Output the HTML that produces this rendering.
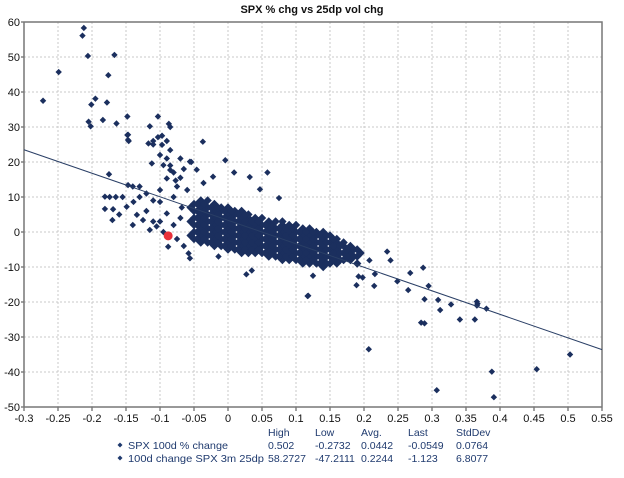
<!DOCTYPE html>
<html><head><meta charset="utf-8"><style>
body{margin:0;background:#fff;width:624px;height:473px;overflow:hidden;font-family:"Liberation Sans",Arial,sans-serif}
svg text{font-family:"Liberation Sans",Arial,sans-serif}
</style></head><body>
<svg id="chart" width="624" height="473" viewBox="0 0 624 473" xmlns="http://www.w3.org/2000/svg">
<text x="312" y="13" text-anchor="middle" font-size="11" font-weight="bold" fill="#111">SPX % chg vs 25dp vol chg</text>
<g id="grid"></g>
<g id="axes"></g>
<g id="marks"></g>
<g id="legend" font-size="10.5" fill="#1f3a6e"></g>
</svg>
<script>
const xTicks=[-0.3,-0.25,-0.2,-0.15,-0.1,-0.05,0,0.05,0.1,0.15,0.2,0.25,0.3,0.35,0.4,0.45,0.5,0.55];
const yTicks=[60,50,40,30,20,10,0,-10,-20,-30,-40,-50];
const regression=[[-0.3,23.5],[0.55,-33.6]];
const highlight=[-0.088,-1.1];
const outliers=[[-0.272,37.5],[-0.249,45.7],[-0.214,56.1],[-0.212,58.3],[-0.206,50.3],[-0.167,50.6],[-0.176,44.8],[-0.195,38.1],[-0.201,36.4],[-0.178,37],[-0.205,31.5],[-0.202,30.2],[-0.184,32],[-0.164,31],[-0.148,33],[-0.147,27.8],[-0.146,26],[-0.103,33],[-0.115,30.2],[-0.087,30.9],[-0.085,30],[-0.037,25.8],[-0.175,16.5],[-0.11,26],[-0.11,25],[-0.097,27.5],[-0.09,26],[-0.054,20],[-0.004,20.5],[0.009,17],[0.032,15.7],[0.058,17],[0.047,12.2],[0.075,9.7],[-0.022,15.8],
[-0.181,10.1],[-0.174,10],[-0.165,10],[-0.181,6.6],[-0.169,6.5],[-0.17,3.4],[-0.149,7.2],[-0.139,8.6],[-0.134,4.9],[-0.125,3.4],[-0.115,0.6],[-0.105,1.6],[-0.09,5.3],[-0.1,8.6],[-0.11,9],[-0.075,13],[-0.09,15.3],[-0.085,17.7],[-0.095,19.1],[-0.112,19.6],[-0.1,22],[-0.097,24.9],[-0.148,27.7],[-0.147,26.3],[-0.117,25.3],[-0.103,27.1],[-0.085,23.4],[-0.077,14.7],[-0.07,15.5],[-0.056,20.1],[-0.046,17.8],[-0.036,14],[-0.147,13.4],[-0.14,13],[-0.13,13],[-0.155,10],[-0.16,5],[-0.12,6],[-0.13,10],[-0.12,11],[-0.1,12],[-0.08,10],[-0.085,19],[-0.09,21],[-0.08,17],[-0.065,18],[-0.07,21],[-0.06,12],[-0.1,3],[-0.095,0],[-0.08,2],[-0.07,4],[-0.068,7],[-0.11,3],[-0.14,2],
[-0.088,-4.2],[-0.058,-6.1],[-0.056,-7.5],[-0.014,-7],[0.027,-12.1],[0.035,-11],[0.118,-18.2],[-0.075,-2],[-0.065,-4],
[0.207,-33.5],[0.307,-45.2],[0.391,-47.2],[0.388,-39.9],[0.454,-39.2],[0.503,-35],[0.234,-5.6],[0.239,-8.1],[0.208,-8.1],[0.216,-12],[0.215,-15.4],[0.189,-15.2],[0.192,-12.7],[0.198,-13],[0.249,-14.1],[0.268,-11.7],[0.265,-16.6],[0.287,-10.2],[0.295,-15.4],[0.289,-19.2],[0.309,-19.4],[0.312,-22.3],[0.328,-20.7],[0.284,-25.9],[0.289,-26.1],[0.341,-25],[0.363,-25],[0.366,-19.9],[0.367,-20.5],[0.366,-21],[0.38,-21.9],[0.117,-18.3],[0.125,-12.5]];
const blob=[
[-0.05,-2],[-0.05,0],[-0.05,2],[-0.05,4],[-0.05,6],[-0.05,8],
[-0.04,-3],[-0.04,-1],[-0.04,1],[-0.04,3],[-0.04,5],[-0.04,7],[-0.04,9],
[-0.03,-3],[-0.03,-1],[-0.03,1],[-0.03,3],[-0.03,5],[-0.03,7],[-0.03,9],
[-0.02,-4],[-0.02,-2],[-0.02,0],[-0.02,2],[-0.02,4],[-0.02,6],[-0.02,8],
[-0.01,-4],[-0.01,-2],[-0.01,0],[-0.01,2],[-0.01,4],[-0.01,6],[-0.01,7],
[0,-5],[0,-3],[0,-1],[0,1],[0,3],[0,5],[0,7],
[0.01,-5],[0.01,-3],[0.01,-1],[0.01,1],[0.01,3],[0.01,5],[0.01,6],
[0.02,-6],[0.02,-4],[0.02,-2],[0.02,0],[0.02,2],[0.02,4],[0.02,6],
[0.03,-6],[0.03,-4],[0.03,-2],[0.03,0],[0.03,2],[0.03,4],[0.03,5],
[0.04,-6],[0.04,-4],[0.04,-2],[0.04,0],[0.04,2],[0.04,4],
[0.05,-6],[0.05,-4],[0.05,-2],[0.05,0],[0.05,2],[0.05,4],
[0.06,-7],[0.06,-5],[0.06,-3],[0.06,-1],[0.06,1],[0.06,3],
[0.07,-7],[0.07,-5],[0.07,-3],[0.07,-1],[0.07,1],[0.07,3],
[0.08,-8],[0.08,-6],[0.08,-4],[0.08,-2],[0.08,0],[0.08,2],[0.08,3],
[0.09,-8],[0.09,-6],[0.09,-4],[0.09,-2],[0.09,0],[0.09,2],
[0.1,-8],[0.1,-6],[0.1,-4],[0.1,-2],[0.1,0],[0.1,2],
[0.11,-9],[0.11,-7],[0.11,-5],[0.11,-3],[0.11,-1],[0.11,1],
[0.12,-9],[0.12,-7],[0.12,-5],[0.12,-3],[0.12,-1],[0.12,1],
[0.13,-9],[0.13,-7],[0.13,-5],[0.13,-3],[0.13,-1],[0.13,0],
[0.14,-10],[0.14,-8],[0.14,-6],[0.14,-4],[0.14,-2],[0.14,0],
[0.15,-9],[0.15,-7],[0.15,-5],[0.15,-3],[0.15,-1],
[0.16,-9],[0.16,-7],[0.16,-5],[0.16,-3],[0.16,-2],
[0.17,-8],[0.17,-6],[0.17,-4],[0.17,-3],
[0.18,-8],[0.18,-6],[0.18,-4],
[0.19,-9],[0.19,-7],[0.19,-5]];
const blobFill=[
[-0.055,-1],[-0.055,3],[-0.055,7],[-0.045,-2],[-0.045,0],[-0.045,2],[-0.045,4],[-0.045,6],[-0.045,8],
[-0.035,-2],[-0.035,0],[-0.035,2],[-0.035,4],[-0.035,6],[-0.035,8],
[-0.025,-3],[-0.025,-1],[-0.025,1],[-0.025,3],[-0.025,5],[-0.025,7],
[-0.015,-3],[-0.015,-1],[-0.015,1],[-0.015,3],[-0.015,5],[-0.015,7],
[-0.005,-4],[-0.005,-2],[-0.005,0],[-0.005,2],[-0.005,4],[-0.005,6],
[0.005,-4],[0.005,-2],[0.005,0],[0.005,2],[0.005,4],[0.005,6],
[0.015,-5],[0.015,-3],[0.015,-1],[0.015,1],[0.015,3],[0.015,5],
[0.025,-5],[0.025,-3],[0.025,-1],[0.025,1],[0.025,3],[0.025,5],
[0.035,-5],[0.035,-3],[0.035,-1],[0.035,1],[0.035,3],
[0.045,-5],[0.045,-3],[0.045,-1],[0.045,1],[0.045,3],
[0.055,-6],[0.055,-4],[0.055,-2],[0.055,0],[0.055,2],
[0.065,-6],[0.065,-4],[0.065,-2],[0.065,0],[0.065,2],
[0.075,-7],[0.075,-5],[0.075,-3],[0.075,-1],[0.075,1],
[0.085,-7],[0.085,-5],[0.085,-3],[0.085,-1],[0.085,1],
[0.095,-7],[0.095,-5],[0.095,-3],[0.095,-1],[0.095,1],
[0.105,-8],[0.105,-6],[0.105,-4],[0.105,-2],[0.105,0],
[0.115,-8],[0.115,-6],[0.115,-4],[0.115,-2],[0.115,0],
[0.125,-8],[0.125,-6],[0.125,-4],[0.125,-2],[0.125,0],
[0.135,-9],[0.135,-7],[0.135,-5],[0.135,-3],[0.135,-1],
[0.145,-9],[0.145,-7],[0.145,-5],[0.145,-3],[0.145,-1],
[0.155,-8],[0.155,-6],[0.155,-4],[0.155,-2],
[0.165,-8],[0.165,-6],[0.165,-4],
[0.175,-7],[0.175,-5],[0.185,-7],[0.185,-5],[0.195,-6]];
const legendHeaders=["High","Low","Avg.","Last","StdDev"];
const seriesNames=["SPX 100d % change","100d change SPX 3m 25dp"];
const statsRow1=["0.502","-0.2732","0.0442","-0.0549","0.0764"];
const statsRow2=["58.2727","-47.2111","0.2244","-1.123","6.8077"];

const L=24,R=602,T=22,B=407,xmin=-0.3,xmax=0.55,ymin=-50,ymax=60;
const sx=v=>L+(v-xmin)/(xmax-xmin)*(R-L);
const sy=v=>B-(v-ymin)/(ymax-ymin)*(B-T);
const NS="http://www.w3.org/2000/svg";
function mk(tag,attrs,parent,txt){const e=document.createElementNS(NS,tag);for(const k in attrs)e.setAttribute(k,attrs[k]);if(txt!==undefined)e.textContent=txt;parent.appendChild(e);return e;}
const grid=document.getElementById('grid'),axes=document.getElementById('axes'),marks=document.getElementById('marks'),legend=document.getElementById('legend');
xTicks.forEach(t=>{const x=sx(t);
 if(t>xmin&&t<xmax){const g=mk('line',{x1:x,x2:x,y1:T,y2:B,stroke:'#c8c8c8','stroke-dasharray':'2,2'},grid);
 
 }
 const tk=mk('line',{x1:x,x2:x,y1:B,y2:B+4,stroke:'#444'},axes);
 
 
 const lb=mk('text',{x:x,y:B+15,'text-anchor':'middle','font-size':'11',fill:'#111'},axes,String(t));
 
 });
yTicks.forEach(t=>{const y=sy(t);
 if(t>ymin&&t<ymax){const g=mk('line',{x1:L,x2:R,y1:y,y2:y,stroke:'#c8c8c8','stroke-dasharray':'2,2'},grid);
 
 }
 const tk=mk('line',{x1:L-3,x2:L,y1:y,y2:y,stroke:'#444'},axes);
 
 
 const lb=mk('text',{x:L-4,y:y+4,'text-anchor':'end','font-size':'11',fill:'#111'},axes,String(t));
 
 });
const fr=mk('rect',{x:L,y:T,width:R-L,height:B-T,fill:'none',stroke:'#777','stroke-width':'1.5'},axes);


function diamond(x,y,r,fill,parent){return mk('path',{d:`M${x} ${y-r}L${x+r} ${y}L${x} ${y+r}L${x-r} ${y}Z`,fill:fill},parent);}
blob.concat(blobFill).forEach(p=>{const d=diamond(sx(p[0]),sy(p[1]),4.2,'#1b2f5e',marks);
 
 });
outliers.forEach(p=>{const d=diamond(sx(p[0]),sy(p[1]),3.2,'#1b2f5e',marks);
 
 });
const rl=mk('line',{x1:sx(regression[0][0]),y1:sy(regression[0][1]),x2:sx(regression[1][0]),y2:sy(regression[1][1]),stroke:'#2a3f66','stroke-width':'1'},marks);


const hp=mk('circle',{cx:sx(highlight[0]),cy:sy(highlight[1]),r:4.5,fill:'#e8303a'},marks);


const colX=[268,315,361,408,456];
legendHeaders.forEach((h,i)=>{const t=mk('text',{x:colX[i],y:436,fill:'#1f3a6e'},legend,h);
 
 });
[statsRow1,statsRow2].forEach((row,r)=>{const y=449+r*13;
 const m=diamond(120,y-4,2.5,'#1f3a6e',legend);
 
 
 const n=mk('text',{x:128,y:y,fill:'#1f3a6e',textLength:(r?136:100),lengthAdjust:'spacingAndGlyphs'},legend,seriesNames[r]);
 
 
 row.forEach((v,i)=>{const t=mk('text',{x:colX[i],y:y,fill:'#1f3a6e'},legend,v);
  
  });});
</script>
</body></html>
